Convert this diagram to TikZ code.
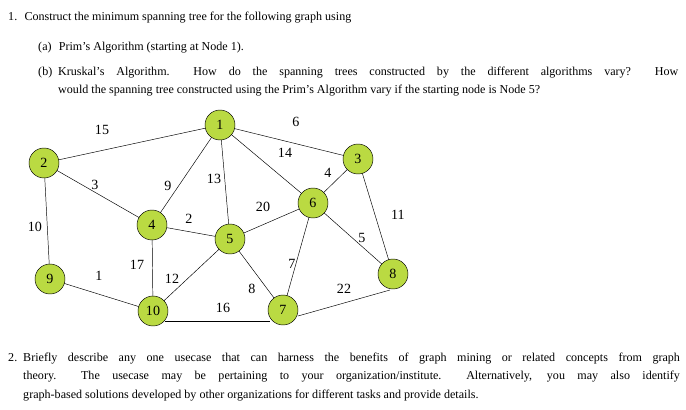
\documentclass[tikz,border=0pt]{standalone}
\usepackage{fontspec}
\setmainfont{Liberation Serif}
\begin{document}
\begin{tikzpicture}[x=0.03cm,y=-0.03cm,
  vert/.style={circle,draw,fill={rgb,255:red,186;green,218;blue,66},minimum size=0.9cm,inner sep=0pt,font=\fontsize{12}{12}\selectfont},
  wl/.style={font=\fontsize{12}{12}\selectfont},
  txt/.style={anchor=base west,inner sep=0pt,font=\fontsize{10.3}{15.8}\selectfont}]
\useasboundingbox (0,0) rectangle (686,409);
\node[txt] (t1) at (8,20) {1.\hspace{0.6em}Construct the minimum spanning tree for the following graph using};
\node[txt] (ta) at (38,50) {(a)\hspace{0.6em}Prim's Algorithm (starting at Node 1).};
\node[txt] (tb) at (38,75) {(b)};
\node[txt] (tbb) at (58,75) {\parbox[t]{18.6cm}{\fontsize{10.3}{15.8}\selectfont \makebox[18.6cm][s]{Kruskal's Algorithm.\ \ How do the spanning trees constructed by the different algorithms vary?\ \ How}\\ would the spanning tree constructed using the Prim's Algorithm vary if the starting node is Node 5?}};
\node[txt] (t2) at (8,361) {2.};
\node[txt] (t2b) at (23,361) {\parbox[t]{19.7cm}{\fontsize{10.3}{15.8}\selectfont \makebox[19.7cm][s]{Briefly describe any one usecase that can harness the benefits of graph mining or related concepts from graph}\\ \makebox[19.7cm][s]{theory.\ \ The usecase may be pertaining to your organization/institute.\ \ Alternatively, you may also identify}\\ graph-based solutions developed by other organizations for different tasks and provide details.}};
\coordinate (p1) at (220,125);
\coordinate (p2) at (44,163);
\coordinate (p3) at (358,159);
\coordinate (p4) at (152,225);
\coordinate (p5) at (230,239);
\coordinate (p6) at (313,203);
\coordinate (p7) at (283,310);
\coordinate (p8) at (393,274);
\coordinate (p9) at (50,279);
\coordinate (p10) at (153,311);
\coordinate (b10) at (165,321);
\coordinate (b7) at (270,321);
\coordinate (b8) at (390,290);
\coordinate (s7) at (298,316);
\foreach \a/\b in {1/2,1/4,1/5,1/6,1/3,2/4,2/9,9/10,4/10,4/5,5/6,5/10,5/7,6/7,6/3,6/8,3/8}
  \draw (p\a) -- (p\b);
\draw (b10) -- (b7);
\draw (s7) -- (b8);
\foreach \i in {1,...,10} \node[vert] (n\i) at (p\i) {\i};
\foreach \l/\x/\y in {15/102/130,6/296/122,14/285/153,13/214/179,9/168/186,3/95/185,4/328/173,11/398/215,20/263/207,2/189/219,10/35/227,5/362/238,17/137/265,7/292/264,1/99/276,12/172/279,8/252/289,22/344/289,16/223/308}
  \node[wl] (w\l) at (\x,\y) {\l};
\end{tikzpicture}
\end{document}
